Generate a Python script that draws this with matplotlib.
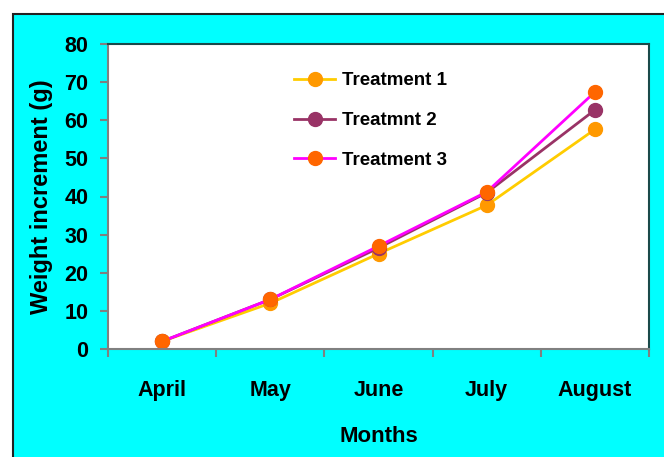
import matplotlib.pyplot as plt
from matplotlib.patches import Rectangle
import numpy as np

months = ['April', 'May', 'June', 'July', 'August']
treatment1 = [2, 12, 25, 37.7, 57.6]
treatment2 = [2, 13, 26.5, 41, 62.7]
treatment3 = [2, 13, 27, 41.2, 67.4]

plt.rcParams['font.family'] = ['Liberation Sans', 'DejaVu Sans']
plt.rcParams['font.weight'] = 'bold'

W, H = 664, 457
fig = plt.figure(figsize=(W/100, H/100), dpi=100)
fig.patch.set_facecolor('white')

# cyan chart area with dark border on the left/top
fig.patches.append(Rectangle((13/W, -0.1), 1.2, 1 - 14/H + 0.1, transform=fig.transFigure,
                             facecolor='#00FFFF', edgecolor='#222222', linewidth=1.5, zorder=-1))

ax = fig.add_axes([108/W, 1 - 349/H, (649-108)/W, (349-44)/H])
ax.set_facecolor('white')

x = np.arange(len(months))
ax.plot(x, treatment1, color='#FFCC00', lw=2, marker='o', ms=10,
        mfc='#FF9900', mec='#FF9900', label='Treatment 1')
ax.plot(x, treatment2, color='#993366', lw=2, marker='o', ms=10,
        mfc='#993366', mec='#993366', label='Treatmnt 2')
ax.plot(x, treatment3, color='#FF00FF', lw=2, marker='o', ms=10,
        mfc='#FF6600', mec='#FF6600', label='Treatment 3')

ax.set_xlim(-0.5, len(months) - 0.5)
ax.set_ylim(0, 80)
ax.set_yticks(range(0, 81, 10))
ax.set_xticks(x)
ax.set_xticklabels(months)
ax.set_xticks(np.arange(-0.5, len(months), 1), minor=True)
ax.tick_params(axis='x', which='major', length=0, pad=22, labelsize=15.5)
ax.tick_params(axis='x', which='minor', length=6, color='#808080', width=1.5)
ax.tick_params(axis='y', length=6, color='#808080', width=1.5, labelsize=15.5, pad=8)

for s in ['left', 'bottom']:
    ax.spines[s].set_color('#808080')
    ax.spines[s].set_linewidth(1.5)
for s in ['top', 'right']:
    ax.spines[s].set_color('#1a4a4a')
    ax.spines[s].set_linewidth(1.5)

ax.set_xlabel('Months', fontsize=16, fontweight='bold', labelpad=18)
ax.set_ylabel('Weight increment (g)', fontsize=17, fontweight='bold', labelpad=8)

leg = ax.legend(loc='upper left', bbox_to_anchor=(0.33, 0.932), frameon=False,
                fontsize=13.5, labelspacing=1.21, handlelength=2.2, handletextpad=0.35,
                borderaxespad=0)

fig.savefig('out.png', dpi=100)
